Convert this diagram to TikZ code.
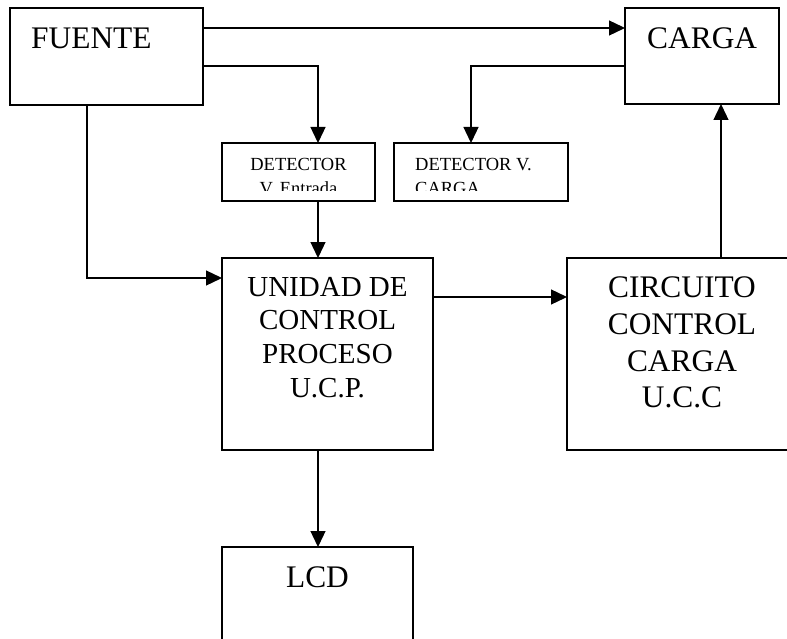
\documentclass[tikz,border=0pt]{standalone}
\usepackage{fontspec}
\setmainfont{Liberation Serif}
\usetikzlibrary{arrows.meta,calc}

\tikzset{
  blockbox/.style={draw, line width=1.4pt, rectangle, inner sep=0pt, outer sep=0pt, anchor=north west},
  arr/.style={line width=1.3pt, -{Triangle[length=16pt,width=15pt]}},
  bigtxt/.style={inner sep=0pt, font=\fontsize{31.4}{36}\selectfont},
  midtxt/.style={inner sep=0pt, font=\fontsize{29}{33}\selectfont},
  smalltxt/.style={inner sep=0pt, font=\fontsize{18.5}{22}\selectfont}
}

\begin{document}
\begin{tikzpicture}[x=1pt,y=-1pt]
  \clip (0,0) rectangle (787,639);
  \fill[white] (0,0) rectangle (787,639);

  % blocks
  \node[blockbox, minimum width=193pt, minimum height=97pt] (fuente) at (10,8) {};
  \node[blockbox, minimum width=154pt, minimum height=96pt] (carga) at (625,8) {};
  \node[blockbox, minimum width=153pt, minimum height=58pt] (detE) at (222,143) {};
  \node[blockbox, minimum width=174pt, minimum height=58pt] (detC) at (394,143) {};
  \node[blockbox, minimum width=211pt, minimum height=192pt] (ucp) at (222,258) {};
  \node[blockbox, minimum width=230pt, minimum height=192pt] (ucc) at (567,258) {};
  \node[blockbox, minimum width=191pt, minimum height=120pt] (lcd) at (222,547) {};

  % labels
  \node[bigtxt, anchor=base west] (tFuente) at (31,49) {FUENTE};
  \node[bigtxt, anchor=base west] (tCarga) at (647,49) {CARGA};

  \begin{scope}
    \clip (222,143) rectangle (568,191);
    \node[smalltxt, anchor=base] (tDetE1) at (298.5,171) {DETECTOR};
    \node[smalltxt, anchor=base] (tDetE2) at (298.5,195) {V. Entrada};
    \node[smalltxt, anchor=base west] (tDetC1) at (415,171) {DETECTOR V.};
    \node[smalltxt, anchor=base west] (tDetC2) at (415,195) {CARGA};
  \end{scope}

  \node[midtxt, anchor=base] (tUcp1) at (327.5,296) {UNIDAD DE};
  \node[midtxt, anchor=base] (tUcp2) at (327.5,329.5) {CONTROL};
  \node[midtxt, anchor=base] (tUcp3) at (327.5,363) {PROCESO};
  \node[midtxt, anchor=base] (tUcp4) at (327.5,397) {U.C.P.};

  \node[bigtxt, anchor=base] (tUcc1) at (682,297) {CIRCUITO};
  \node[bigtxt, anchor=base] (tUcc2) at (682,334) {CONTROL};
  \node[bigtxt, anchor=base] (tUcc3) at (682,371) {CARGA};
  \node[bigtxt, anchor=base] (tUcc4) at (682,407) {U.C.C};

  \node[bigtxt, anchor=base] (tLcd) at (317.5,587) {LCD};

  % connectors
  \draw[arr] ($(fuente.north east)+(0,20)$) -- ($(carga.north west)+(0,20)$);
  \draw[arr] ($(fuente.north east)+(0,58)$) -| ($(detE.north west)+(96,0)$);
  \draw[arr] ($(fuente.south west)+(77,0)$) |- ($(ucp.north west)+(0,20)$);
  \draw[arr] ($(detE.south west)+(96,0)$) -- ($(ucp.north west)+(96,0)$);
  \draw[arr] ($(carga.north west)+(0,58)$) -| ($(detC.north west)+(77,0)$);
  \draw[arr] ($(ucp.north east)+(0,39)$) -- ($(ucc.north west)+(0,39)$);
  \draw[arr] ($(ucc.north west)+(154,0)$) -- ($(carga.south west)+(96,0)$);
  \draw[arr] ($(ucp.south west)+(96,0)$) -- ($(lcd.north west)+(96,0)$);
\end{tikzpicture}
\end{document}
